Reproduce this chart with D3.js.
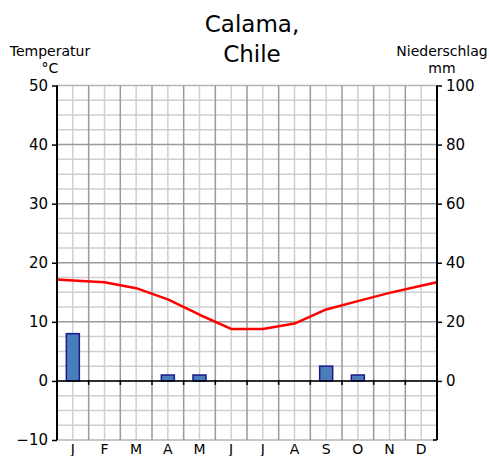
<!DOCTYPE html>
<html>
<head>
<meta charset="utf-8">
<script src="https://cdn.jsdelivr.net/npm/d3@7"></script>
<style>
  body { margin: 0; background: #fff; }
  svg { display: block; font-family: "DejaVu Sans", sans-serif; }
</style>
</head>
<body>
<svg id="chart" width="489" height="456"></svg>
<script>
const months = ["J","F","M","A","M","J","J","A","S","O","N","D"];
const temperature = [17.0, 16.7, 15.7, 13.8, 11.2, 8.8, 8.8, 9.7, 12.1, 13.5, 14.9, 16.1];
const precipitation = [16, 0, 0, 2, 2, 0, 0, 0, 5, 2, 0, 0];
const tempTicks = [-10, 0, 10, 20, 30, 40, 50];
const precTicks = [0, 20, 40, 60, 80, 100];
const titleLines = ["Calama,", "Chile"];

const svg = d3.select("#chart");
const pLeft = 57, pRight = 437, pTop = 85.5, pBottom = 440;

const x = d3.scaleLinear().domain([0, 12]).range([pLeft, pRight]);
const yT = d3.scaleLinear().domain([-10, 50]).range([pBottom, pTop]);
const yP = d3.scaleLinear().domain([-20, 100]).range([pBottom, pTop]);

// Grid
const g = svg.append("g");
const minorY = d3.range(-10, 50.01, 2.5).filter(v => v % 10 !== 0);
const majorY = d3.range(0, 40.01, 10);
g.selectAll(".hminor").data(minorY).join("line")
  .attr("x1", pLeft).attr("x2", pRight)
  .attr("y1", d => yT(d)).attr("y2", d => yT(d))
  .attr("stroke", "#cfcfcf").attr("stroke-width", 1.5);
g.selectAll(".vminor").data(d3.range(12)).join("line")
  .attr("x1", d => x(d + 0.5)).attr("x2", d => x(d + 0.5))
  .attr("y1", pTop).attr("y2", pBottom)
  .attr("stroke", "#cfcfcf").attr("stroke-width", 1.5);
g.selectAll(".border").data([50, -10]).join("line")
  .attr("x1", pLeft).attr("x2", pRight)
  .attr("y1", d => yT(d)).attr("y2", d => yT(d))
  .attr("stroke", "#b5b5b5").attr("stroke-width", 1.5);
g.selectAll(".hmajor").data(majorY).join("line")
  .attr("x1", pLeft).attr("x2", pRight)
  .attr("y1", d => yT(d)).attr("y2", d => yT(d))
  .attr("stroke", "#9a9a9a").attr("stroke-width", 1.5);
g.selectAll(".vmajor").data(d3.range(1, 12)).join("line")
  .attr("x1", d => x(d)).attr("x2", d => x(d))
  .attr("y1", pTop).attr("y2", pBottom)
  .attr("stroke", "#9a9a9a").attr("stroke-width", 1.5);

// Bars
const bw = 13;
svg.append("g").selectAll("rect").data(precipitation.map((v, i) => ({v, i})).filter(d => d.v > 0)).join("rect")
  .attr("x", d => x(d.i + 0.5) - bw / 2)
  .attr("width", bw)
  .attr("y", d => yP(d.v))
  .attr("height", d => yP(0) - yP(d.v))
  .attr("fill", "#4a7ebb")
  .attr("stroke", "#1a1a8a")
  .attr("stroke-width", 1.5);

// Zero line with month ticks
svg.append("line")
  .attr("x1", pLeft).attr("x2", pRight)
  .attr("y1", yT(0)).attr("y2", yT(0))
  .attr("stroke", "#000").attr("stroke-width", 1.5);
svg.append("g").selectAll("line").data(d3.range(1, 12)).join("line")
  .attr("x1", d => x(d)).attr("x2", d => x(d))
  .attr("y1", yT(0) - 1).attr("y2", yT(0) + 4)
  .attr("stroke", "#000").attr("stroke-width", 1.5);

// Temperature line; ends extend the first/last segment to the plot edges
const n = temperature.length;
const leftEdge = temperature[0] + (temperature[0] - temperature[1]) / 2;
const rightEdge = temperature[n - 1] + (temperature[n - 1] - temperature[n - 2]) / 2;
const pts = [[0, leftEdge]].concat(temperature.map((t, i) => [i + 0.5, t]), [[12, rightEdge]]);
svg.append("path")
  .datum(pts)
  .attr("fill", "none")
  .attr("stroke", "#ff0000")
  .attr("stroke-width", 2.5)
  .attr("stroke-linejoin", "round")
  .attr("d", d3.line().x(d => x(d[0])).y(d => yT(d[1])));

// Left axis
const leftAxis = svg.append("g").attr("transform", `translate(${pLeft},0)`)
  .call(d3.axisLeft(yT).tickValues(tempTicks).tickSize(5).tickPadding(4));
leftAxis.select(".domain").attr("stroke-width", 2).attr("d", `M0,${pTop}V${pBottom}`);
leftAxis.selectAll(".tick line").attr("stroke-width", 1.5);
leftAxis.selectAll("text").attr("font-size", 15).attr("fill", "#000").attr("font-family", "DejaVu Sans");

// Right axis
const rightAxis = svg.append("g").attr("transform", `translate(${pRight},0)`)
  .call(d3.axisRight(yP).tickValues(precTicks).tickSize(5).tickPadding(4));
rightAxis.select(".domain").attr("stroke-width", 2).attr("d", `M0,${pTop}V${pBottom}`);
rightAxis.selectAll(".tick line").attr("stroke-width", 1.5);
rightAxis.selectAll("text").attr("font-size", 15).attr("fill", "#000").attr("font-family", "DejaVu Sans");
svg.append("line").attr("x1", pRight - 4).attr("x2", pRight).attr("y1", pBottom).attr("y2", pBottom)
  .attr("stroke", "#000").attr("stroke-width", 1.5);

// Month labels
svg.append("g").selectAll("text").data(months).join("text")
  .attr("x", (d, i) => x(i + 0.5))
  .attr("y", 454)
  .attr("text-anchor", "middle")
  .attr("font-size", 14)
  .text(d => d);

// Title
svg.append("g").selectAll("text").data(titleLines).join("text")
  .attr("x", 252)
  .attr("y", (d, i) => 32 + i * 30)
  .attr("text-anchor", "middle")
  .attr("font-size", 23)
  .text(d => d);

// Axis titles
const axTitles = [
  {t: "Temperatur", x: 50, y: 56},
  {t: "°C", x: 50, y: 73},
  {t: "Niederschlag", x: 442, y: 56},
  {t: "mm", x: 442, y: 73}
];
svg.append("g").selectAll("text").data(axTitles).join("text")
  .attr("x", d => d.x).attr("y", d => d.y)
  .attr("text-anchor", "middle")
  .attr("font-size", 14)
  .text(d => d.t);
</script>
</body>
</html>
